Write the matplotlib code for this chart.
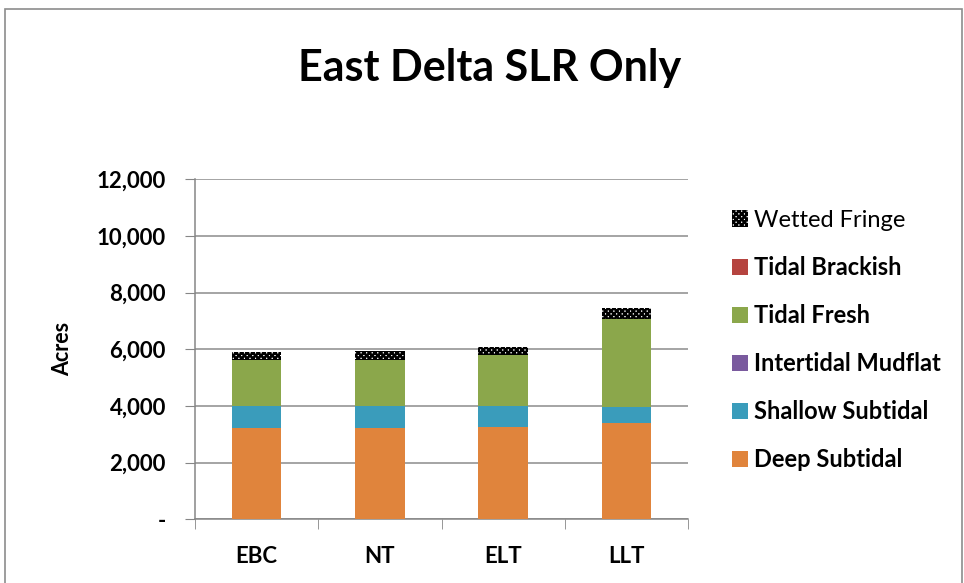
import matplotlib
matplotlib.use('Agg')
import matplotlib.pyplot as plt
import numpy as np
from matplotlib.patches import Rectangle

plt.rcParams['font.family'] = ['Lato', 'DejaVu Sans']
plt.rcParams['hatch.linewidth'] = 1.8

# acres by habitat type for each scenario
scenarios = ['EBC', 'NT', 'ELT', 'LLT']
deep_subtidal = [3210, 3210, 3270, 3400]
shallow_subtidal = [790, 790, 730, 580]
intertidal_mudflat = [0, 0, 0, 0]
tidal_fresh = [1620, 1620, 1800, 3080]
tidal_brackish = [0, 0, 0, 0]
wetted_fringe = [300, 320, 290, 400]

yticks = [0, 2000, 4000, 6000, 8000, 10000, 12000]
ytick_labels = ['-', '2,000', '4,000', '6,000', '8,000', '10,000', '12,000']

fig = plt.figure(figsize=(9.64, 5.83), dpi=100)
ax = fig.add_axes([0.2023, 0.1093, 0.5114, 0.5832])

x = np.arange(len(scenarios))
w = 0.4
bottom = np.zeros(len(scenarios))

series = [
    ('Deep Subtidal', deep_subtidal, '#E0843C', None),
    ('Shallow Subtidal', shallow_subtidal, '#3A9CBB', None),
    ('Intertidal Mudflat', intertidal_mudflat, '#7A5A9E', None),
    ('Tidal Fresh', tidal_fresh, '#8BA74B', None),
    ('Tidal Brackish', tidal_brackish, '#B5443F', None),
    ('Wetted Fringe', wetted_fringe, 'white', 'xxxxxx'),
]

handles = []
for name, vals, col, hatch in series:
    b = ax.bar(x, vals, w, bottom=bottom, color=col, label=name,
               hatch=hatch, edgecolor='black' if hatch else col, linewidth=0, zorder=3)
    handles.append(b)
    bottom += np.array(vals)

ax.set_xlim(-0.5, 3.5)
ax.set_ylim(0, 12000)
ax.set_yticks(yticks)
ax.set_yticklabels(ytick_labels, fontsize=16, fontweight='bold')
ax.set_xticks(x)
ax.set_xticklabels(scenarios, fontsize=16, fontweight='bold')
ax.set_xticks(np.arange(-0.5, 4.0, 1), minor=True)
ax.tick_params(axis='x', which='major', length=0, pad=19)
ax.tick_params(axis='x', which='minor', length=7, color='#868686', direction='out')
ax.tick_params(axis='y', length=7, color='#868686', direction='out', pad=14)
ax.grid(axis='y', color='#8c8c8c', linewidth=1.1, zorder=0)
for s in ['top', 'right']:
    ax.spines[s].set_visible(False)
for s in ['left', 'bottom']:
    ax.spines[s].set_color('#868686')
    ax.spines[s].set_linewidth(1.1)
ax.set_ylabel('Acres', fontsize=15.5, fontweight='bold')
ax.yaxis.set_label_coords(-0.248, 0.5)

fig.text(0.508, 0.883, 'East Delta SLR Only', ha='center', va='center',
         fontsize=31, fontweight='bold')

leg = fig.legend(handles[::-1], [s[0] for s in series][::-1], loc='upper left',
                 bbox_to_anchor=(0.7593, 0.640), frameon=False, fontsize=17,
                 handlelength=0.68, handleheight=0.68, handletextpad=0.25,
                 labelspacing=1.06, borderpad=0, borderaxespad=0)
for i, t in enumerate(leg.get_texts()):
    if i > 0:
        t.set_fontweight('bold')

# outer chart border
fig.patches.append(Rectangle((0.005, -0.01), 0.993, 0.995, transform=fig.transFigure,
                             fill=False, edgecolor='#8c8c8c', linewidth=1.2))

fig.savefig('out.png', dpi=100)
